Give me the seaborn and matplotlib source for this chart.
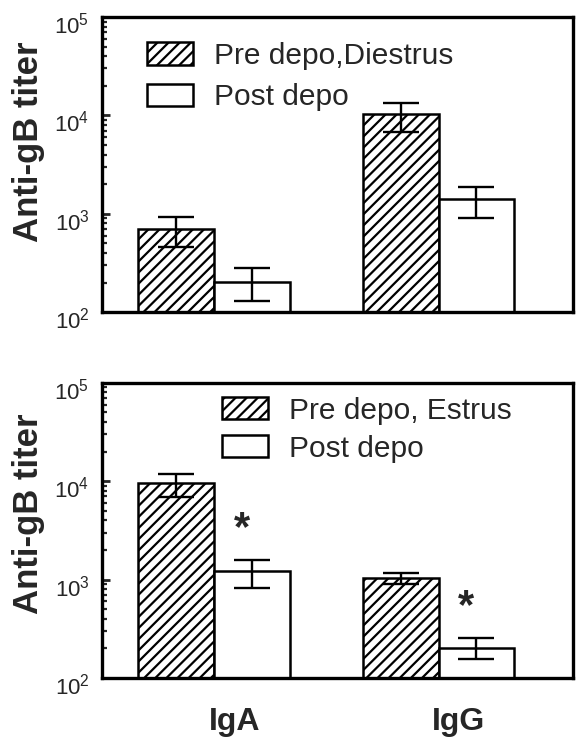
import numpy as np
import pandas as pd
import matplotlib
matplotlib.use("Agg")
import matplotlib.pyplot as plt
import matplotlib.transforms as mtransforms
import seaborn as sns

sns.set_style("white")
plt.rcParams['font.family'] = ['Liberation Sans', 'DejaVu Sans']
plt.rcParams['mathtext.fontset'] = 'custom'
plt.rcParams['mathtext.rm'] = 'Liberation Sans'
plt.rcParams['hatch.linewidth'] = 1.6

isotypes = ["IgA", "IgG"]

# Top panel (Diestrus)
top_groups = ["Pre depo,Diestrus", "Post depo"]
top_pre = [700, 10300]
top_pre_lo = [460, 6800]
top_pre_hi = [920, 13400]
top_post = [202, 1410]
top_post_lo = [129, 900]
top_post_hi = [280, 1870]
top_sig = [False, False]

# Bottom panel (Estrus)
bot_groups = ["Pre depo, Estrus", "Post depo"]
bot_pre = [9640, 1040]
bot_pre_lo = [6950, 904]
bot_pre_hi = [11900, 1170]
bot_post = [1225, 202]
bot_post_lo = [824, 156]
bot_post_hi = [1590, 255]
bot_sig = [True, True]

fig = plt.figure(figsize=(5.76, 7.4), dpi=100)
ax_top = fig.add_axes([0.177, 0.578, 0.818, 0.399])
ax_bot = fig.add_axes([0.177, 0.0838, 0.818, 0.399])


def draw_panel(ax, groups, pre, pre_lo, pre_hi, post, post_lo, post_hi, sig,
               legend_anchor, labelspacing, ylabel_y, show_x):
    df = pd.DataFrame({
        "isotype": isotypes * 2,
        "group": [groups[0]] * 2 + [groups[1]] * 2,
        "titer": list(pre) + list(post),
    })
    sns.barplot(data=df, x="isotype", y="titer", hue="group",
                hue_order=groups, order=isotypes,
                palette=["white", "white"], edgecolor="black",
                linewidth=1.8, width=0.675, errorbar=None, ax=ax,
                legend=False, saturation=1)
    for bar in ax.containers[0]:
        bar.set_hatch("///")
    ax.set_yscale("log")
    ax.set_ylim(100, 1e5)
    ax.set_xlim(-0.5, 1.6)

    means = [pre, post]
    los = [pre_lo, post_lo]
    his = [pre_hi, post_hi]
    for ci, cont in enumerate(ax.containers[:2]):
        for bi, bar in enumerate(cont):
            x = bar.get_x() + bar.get_width() / 2
            m = means[ci][bi]
            ax.errorbar(x, m, yerr=[[m - los[ci][bi]], [his[ci][bi] - m]],
                        fmt="none", ecolor="black", elinewidth=1.7,
                        capsize=13, capthick=1.7, zorder=5)
            if ci == 1 and sig[bi]:
                off = mtransforms.ScaledTranslation(-10 / 100, 0, fig.dpi_scale_trans)
                ax.text(x, his[ci][bi] * 2.05, "*", ha="center", va="center",
                        fontsize=30, fontweight="bold",
                        transform=ax.transData + off)

    handles = [ax.containers[0][0], ax.containers[1][0]]
    ax.legend(handles, groups, loc="upper left", bbox_to_anchor=legend_anchor,
              frameon=False, fontsize=21.5, handlelength=1.55, handleheight=0.77,
              handletextpad=0.7, labelspacing=labelspacing, borderpad=0,
              borderaxespad=0)

    for s in ax.spines.values():
        s.set_visible(True)
        s.set_linewidth(2.4)
        s.set_color("black")

    ax.tick_params(axis="y", which="major", direction="in", length=6,
                   width=2, left=True, right=False, labelsize=16, pad=9)
    ax.tick_params(axis="y", which="minor", direction="in", length=3.5,
                   width=1.6, left=True, right=False)
    off = mtransforms.ScaledTranslation(0, -6 / 100, fig.dpi_scale_trans)
    for lab in ax.get_yticklabels():
        lab.set_transform(lab.get_transform() + off)

    ax.set_ylabel("")
    ax.set_xlabel("")
    ax.text(-0.155, ylabel_y, "Anti-gB titer", transform=ax.transAxes,
            rotation=90, ha="center", va="center", fontsize=25,
            fontweight="bold")
    ax.tick_params(axis="x", bottom=False, length=0)
    if show_x:
        ax.set_xticks(range(len(isotypes)))
        ax.set_xticklabels(isotypes, fontsize=23, fontweight="bold")
        ax.tick_params(axis="x", pad=21)
        xoff = mtransforms.ScaledTranslation(20 / 100, 0, fig.dpi_scale_trans)
        for lab in ax.get_xticklabels():
            lab.set_transform(lab.get_transform() + xoff)
    else:
        ax.set_xticks([])


draw_panel(ax_top, top_groups, top_pre, top_pre_lo, top_pre_hi,
           top_post, top_post_lo, top_post_hi, top_sig,
           (0.0955, 0.916), 0.45, 0.576, False)
draw_panel(ax_bot, bot_groups, bot_pre, bot_pre_lo, bot_pre_hi,
           bot_post, bot_post_lo, bot_post_hi, bot_sig,
           (0.255, 0.953), 0.34, 0.556, True)

fig.savefig("out.png", dpi=100)
